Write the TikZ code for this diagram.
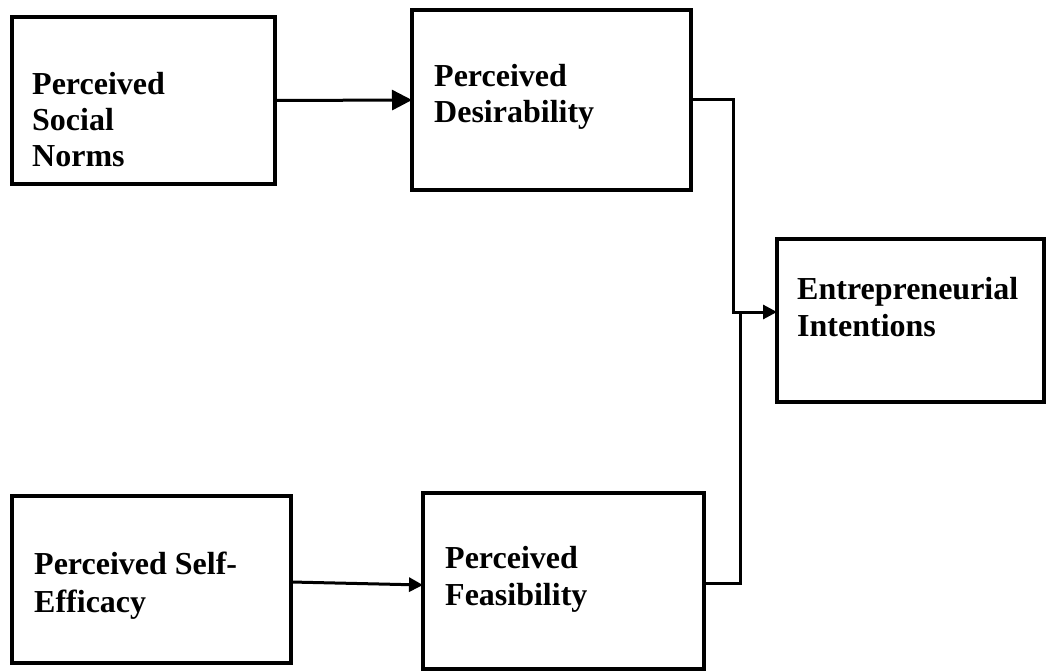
\documentclass[tikz,border=0pt]{standalone}
\usepackage{fontspec}
\setmainfont{Liberation Serif}
\usetikzlibrary{arrows.meta,calc}
\begin{document}
\begin{tikzpicture}[x=1pt,y=-1pt,
  box/.style={draw,line width=3.2pt,rectangle,inner sep=0pt,outer sep=0pt,anchor=north west},
  lbl/.style={anchor=base west,inner sep=0pt,font=\fontsize{32}{36}\selectfont\bfseries},
  conn/.style={line width=3pt},
  bigtip/.style={-{Triangle[length=20pt,width=20pt]}},
  smalltip/.style={-{Triangle[length=14pt,width=14pt]}}]
\useasboundingbox (0,0) rectangle (1047,671);
% boxes
\node[box,minimum width=263pt,minimum height=167pt] (A) at (12,17) {};
\node[box,minimum width=279pt,minimum height=180pt] (B) at (412,10) {};
\node[box,minimum width=267pt,minimum height=163pt] (C) at (777,239) {};
\node[box,minimum width=279pt,minimum height=167pt] (D) at (12,496) {};
\node[box,minimum width=281pt,minimum height=176pt] (E) at (423,493) {};
% labels
\node[lbl] (a1) at (32,95) {Perceived};
\node[lbl] (a2) at (32,131) {Social};
\node[lbl] (a3) at (32,167) {Norms};
\node[lbl] (b1) at (434,87) {Perceived};
\node[lbl] (b2) at (434,123) {Desirability};
\node[lbl] (c1) at (797,299) {Entrepreneurial};
\node[lbl] (c2) at (797,336) {Intentions};
\node[lbl] (d1) at (34,574) {Perceived Self-};
\node[lbl] (d2) at (34,612) {Efficacy};
\node[lbl] (e1) at (445,568) {Perceived};
\node[lbl] (e2) at (445,605) {Feasibility};
% connectors
\coordinate (m1) at (733,312);
\coordinate (m2) at (740,312);
\draw[conn,bigtip] (A.east) -- (B.west);
\draw[conn,smalltip] ($(D.east)+(0,2.5)$) -- ($(E.west)+(0,4)$);
\draw[conn,smalltip] (B.east) -| (m1) -- (m1 -| C.west);
\draw[conn] ($(E.east)+(0,2)$) -| (m2);
\end{tikzpicture}
\end{document}
